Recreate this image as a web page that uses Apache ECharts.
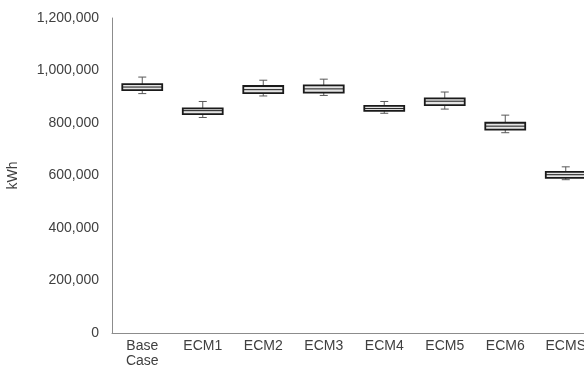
<!DOCTYPE html>
<html>
<head>
<meta charset="utf-8">
<script src="https://cdn.jsdelivr.net/npm/echarts@6/dist/echarts.min.js"></script>
<style>html,body{margin:0;padding:0;background:#fff;overflow:hidden}#c{width:584px;height:373px}</style>
</head>
<body>
<div id="c"></div>
<script>
var categories = ['Base\nCase', 'ECM1', 'ECM2', 'ECM3', 'ECM4', 'ECM5', 'ECM6', 'ECMS'];
var whiskerLow  = [912000, 821000, 903000, 905000, 837000, 853000, 763000, 584000];
var q1Values    = [925000, 834000, 914000, 916000, 846000, 868000, 775000, 591000];
var medians     = [937000, 847000, 927000, 930000, 855000, 883000, 788000, 603000];
var q3Values    = [948000, 856000, 941000, 943000, 865000, 894000, 801000, 614000];
var whiskerHigh = [975000, 882000, 963000, 967000, 882000, 918000, 830000, 633000];
var yTicks = [0, 200000, 400000, 600000, 800000, 1000000, 1200000];

var data = categories.map(function (c, i) {
  return [i, whiskerLow[i], q1Values[i], medians[i], q3Values[i], whiskerHigh[i]];
});

function fmt(v) { return v.toString().replace(/\B(?=(\d{3})+(?!\d))/g, ','); }

var font = 'Liberation Sans, Arial';
var chart = echarts.init(document.getElementById('c'));
chart.setOption({
  animation: false,
  grid: { left: 112, top: 18, height: 315, width: 484, outerBoundsMode: 'none', containLabel: false },
  xAxis: {
    type: 'category',
    data: categories,
    axisLine: { lineStyle: { color: '#8c8c8c', width: 1 } },
    axisTick: { show: false },
    axisLabel: { color: '#404040', fontFamily: font, fontSize: 14, lineHeight: 15, margin: 6, interval: 0 }
  },
  yAxis: {
    type: 'value',
    min: yTicks[0], max: yTicks[yTicks.length - 1], interval: 200000,
    name: 'kWh', nameLocation: 'middle', nameRotate: 90, nameGap: 92,
    nameTextStyle: { color: '#404040', fontFamily: font, fontSize: 14 },
    axisLine: { show: true, lineStyle: { color: '#8c8c8c', width: 1 } },
    axisTick: { show: false },
    splitLine: { show: false },
    axisLabel: { color: '#404040', fontFamily: font, fontSize: 14, margin: 13, formatter: fmt }
  },
  series: [{
    type: 'custom',
    data: data,
    clip: false,
    encode: { x: 0, y: [1, 2, 3, 4, 5] },
    renderItem: function (params, api) {
      var i = api.value(0);
      var lo = api.coord([i, api.value(1)]);
      var q1 = api.coord([i, api.value(2)]);
      var md = api.coord([i, api.value(3)]);
      var q3 = api.coord([i, api.value(4)]);
      var hi = api.coord([i, api.value(5)]);
      var band = api.size([1, 0])[0];
      var w = band * 0.66;
      var cap = 8;
      var x = lo[0];
      var ws = { stroke: '#595959', lineWidth: 1 };
      return {
        type: 'group',
        children: [
          { type: 'line', shape: { x1: x, y1: hi[1], x2: x, y2: q3[1] }, style: ws },
          { type: 'line', shape: { x1: x - cap / 2, y1: hi[1], x2: x + cap / 2, y2: hi[1] }, style: ws },
          { type: 'line', shape: { x1: x, y1: lo[1], x2: x, y2: q1[1] }, style: ws },
          { type: 'line', shape: { x1: x - cap / 2, y1: lo[1], x2: x + cap / 2, y2: lo[1] }, style: ws },
          { type: 'rect', shape: { x: x - w / 2, y: q3[1], width: w, height: q1[1] - q3[1] },
            style: { fill: '#e4e4e4', stroke: '#1a1a1a', lineWidth: 1.8 } },
          { type: 'line', shape: { x1: x - w / 2, y1: md[1], x2: x + w / 2, y2: md[1] },
            style: { stroke: '#1a1a1a', lineWidth: 1 } }
        ]
      };
    }
  }]
});
</script>
</body>
</html>
